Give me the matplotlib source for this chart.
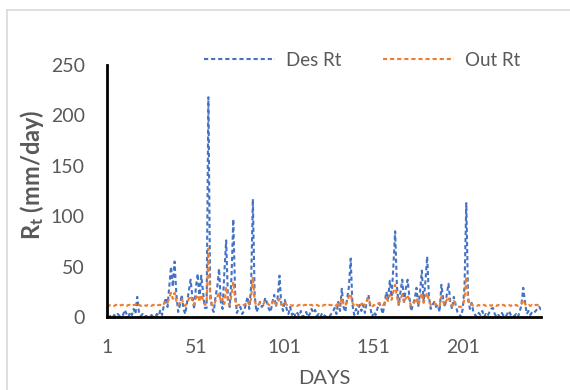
import matplotlib
matplotlib.use("Agg")
import matplotlib.pyplot as plt
import numpy as np

# daily values, day 1..245
days = np.arange(1, 246)

des_rt = [
    0, 0, 1, 0, 2, 0, 3, 1, 0, 2,
    7, 3, 0, 5, 2, 8, 3, 20, 4, 1,
    3, 0, 1, 0, 0, 2, 0, 0, 3, 1,
    7, 2, 12, 19, 10, 30, 50, 30, 55, 22,
    5, 12, 22, 8, 3, 14, 26, 37, 20, 8,
    30, 43, 18, 41, 25, 9, 9, 218, 25, 9,
    5, 20, 30, 48, 15, 8, 45, 76, 18, 10,
    40, 97, 25, 4, 8, 10, 3, 6, 12, 20,
    8, 30, 117, 22, 5, 9, 15, 10, 12, 19,
    14, 8, 5, 15, 22, 10, 20, 41, 12, 6,
    17, 8, 3, 10, 2, 5, 0, 4, 1, 6,
    0, 2, 5, 0, 3, 8, 4, 7, 1, 3,
    0, 4, 2, 0, 1, 0, 3, 5, 9, 3,
    15, 6, 28, 10, 5, 18, 30, 58, 12, 2,
    8, 3, 12, 6, 12, 4, 15, 22, 10, 0,
    5, 2, 8, 14, 10, 3, 12, 25, 18, 36,
    20, 50, 85, 30, 12, 25, 37, 15, 28, 37,
    20, 6, 12, 18, 29, 10, 25, 46, 15, 35,
    60, 20, 8, 12, 15, 10, 12, 5, 32, 18,
    10, 22, 33, 15, 8, 20, 12, 5, 3, 0,
    8, 30, 113, 20, 8, 14, 5, 2, 0, 4,
    2, 6, 0, 3, 1, 5, 8, 9, 3, 0,
    2, 0, 4, 1, 0, 3, 6, 2, 0, 1,
    3, 0, 5, 12, 29, 15, 3, 6, 2, 5,
    4, 6, 8, 10, 7,
]

out_rt = [
    12, 11, 12, 12, 11, 12, 12, 11, 12, 12,
    12, 11, 12, 12, 11, 12, 12, 14, 12, 11,
    12, 12, 11, 12, 12, 11, 12, 12, 11, 12,
    12, 11, 13, 16, 14, 19, 24, 18, 24, 16,
    12, 14, 18, 13, 11, 14, 18, 21, 16, 12,
    19, 22, 15, 22, 17, 12, 14, 68, 18, 12,
    11, 16, 20, 24, 15, 18, 13, 30, 15, 12,
    22, 35, 17, 11, 12, 12, 11, 12, 13, 16,
    12, 18, 40, 16, 11, 12, 14, 12, 13, 16,
    14, 12, 11, 14, 17, 12, 15, 18, 13, 11,
    14, 12, 11, 12, 11, 12, 12, 11, 12, 12,
    11, 12, 12, 11, 12, 12, 11, 12, 12, 11,
    12, 11, 12, 12, 11, 12, 12, 11, 12, 11,
    15, 11, 19, 13, 11, 16, 20, 23, 14, 11,
    13, 11, 14, 12, 15, 11, 16, 19, 13, 10,
    12, 11, 12, 14, 13, 11, 14, 18, 16, 22,
    17, 25, 32, 20, 13, 18, 22, 14, 19, 22,
    16, 11, 13, 15, 19, 12, 17, 24, 14, 20,
    24, 16, 12, 13, 14, 12, 13, 11, 20, 15,
    12, 17, 20, 14, 11, 16, 13, 11, 10, 10,
    12, 18, 40, 16, 12, 13, 11, 11, 11, 12,
    11, 12, 12, 11, 12, 12, 11, 12, 12, 11,
    12, 11, 12, 12, 11, 12, 12, 11, 12, 11,
    12, 11, 12, 13, 17, 13, 11, 12, 11, 12,
    11, 12, 12, 11, 12,
]

x_ticks = [1, 51, 101, 151, 201]
y_ticks = [0, 50, 100, 150, 200, 250]

plt.rcParams['font.family'] = ['Lato', 'DejaVu Sans']
plt.rcParams['mathtext.fontset'] = 'custom'
plt.rcParams['mathtext.rm'] = 'Lato'
plt.rcParams['mathtext.bf'] = 'Lato:bold'

grey = '#595959'

fig = plt.figure(figsize=(5.7, 3.9), dpi=100)
ax = fig.add_axes([107 / 570, 1 - 317 / 390, 434 / 570, 252 / 390])

ax.plot(days, des_rt, color='#4472C4', lw=1.5, dashes=(2, 1.4), label='Des Rt')
ax.plot(days, out_rt, color='#ED7D31', lw=1.5, dashes=(2, 1.4), label='Out Rt')

ax.set_xlim(1, 245)
ax.set_ylim(0, 250)
ax.set_xticks(x_ticks)
ax.set_yticks(y_ticks)
ax.tick_params(length=0, labelsize=14, colors=grey)
ax.tick_params(axis='y', pad=16)
ax.tick_params(axis='x', pad=16)
for s in ['top', 'right']:
    ax.spines[s].set_visible(False)
for s in ['left', 'bottom']:
    ax.spines[s].set_linewidth(2)
    ax.spines[s].set_color('black')

fig.text(324 / 570, 1 - 378 / 390, 'DAYS', ha='center', va='center',
         fontsize=14.5, color=grey)
fig.text(32 / 570, 1 - 175 / 390, r'$\mathbf{R_t}$ (mm/day)', rotation=90,
         ha='center', va='center', fontsize=17, fontweight='bold', color=grey)

fig.legend(loc='center', bbox_to_anchor=(362 / 570, 1 - 60 / 390), ncol=2,
           frameon=False, fontsize=13.5, handlelength=3.8, columnspacing=2.2,
           handletextpad=0.6, labelcolor=grey)

# chart area border: left and top edges only
fig.add_artist(plt.Line2D([7 / 570, 7 / 570], [0, 1 - 10 / 390],
                          transform=fig.transFigure, color='#d9d9d9', lw=1.2))
fig.add_artist(plt.Line2D([7 / 570, 1], [1 - 10 / 390, 1 - 10 / 390],
                          transform=fig.transFigure, color='#d9d9d9', lw=1.2))

fig.savefig('out.png', dpi=100)
